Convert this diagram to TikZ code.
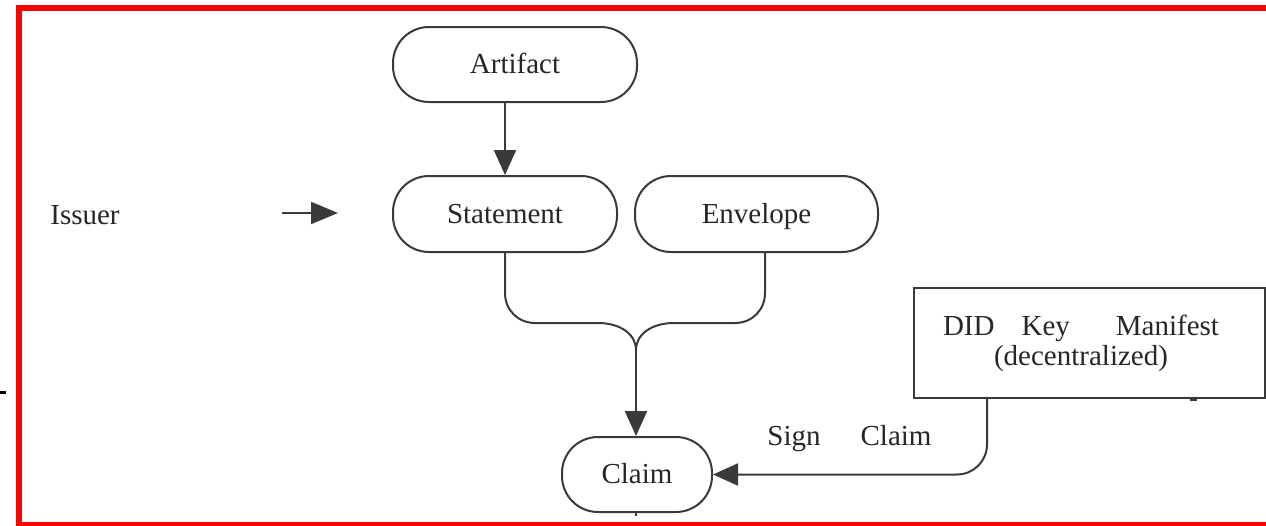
\documentclass[tikz,border=0pt]{standalone}
\usepackage{fontspec}
\setmainfont{Liberation Serif}
\usetikzlibrary{arrows.meta}
\definecolor{inkline}{HTML}{3A3A3A}
\definecolor{inktext}{HTML}{262626}
\begin{document}
\begin{tikzpicture}[x=1pt,y=-1pt,
  pill/.style={draw=inkline, line width=2pt, rounded corners=36pt, inner sep=0pt,
    text=inktext, text height=20pt, text depth=2pt,
    font=\fontsize{29}{30}\selectfont},
  plainbox/.style={draw=inkline, line width=2pt, inner sep=0pt, text=inktext,
    align=center, font=\fontsize{29}{30}\selectfont},
  lbl/.style={text=inktext, inner sep=0pt, font=\fontsize{29}{30}\selectfont},
  flow/.style={draw=inkline, line width=2pt},
  tip/.style={-{Triangle[length=25pt,width=22pt]}}
]
\useasboundingbox (0,0) rectangle (1266,525);
\clip (0,0) rectangle (1266,525);

% outer frame
\draw[red, line width=6pt] (19,8) rectangle (1275,524.7);

% nodes
\node[pill, minimum width=244pt, minimum height=75pt] (artifact) at (515,64.5) {Artifact};
\node[pill, minimum width=224pt, minimum height=76pt] (statement) at (505,214) {Statement};
\node[pill, minimum width=243pt, minimum height=76pt] (envelope) at (756.5,214) {Envelope};
\node[pill, minimum width=150pt, minimum height=75pt] (claim) at (637,474.5) {Claim};
\node[plainbox, minimum width=351pt, minimum height=110pt] (did) at (1089.5,343)
  {DID\hspace{27pt}Key\hspace{46pt}Manifest\hspace*{17pt}\\[0pt](decentralized)\hspace*{17pt}};
\node[lbl] (issuer) at (85,215) {Issuer};
\node[lbl, anchor=base] (signlbl) at (849.5,445) {Sign\hspace{40pt}Claim};

% issuer arrow
\coordinate (ia) at (282,213);
\coordinate (ib) at (338,213);
\draw[flow, -{Triangle[length=27pt,width=22pt]}] (ia) -- (ib);

% artifact to statement
\draw[flow, tip] (artifact.south -| statement.north) -- (statement.north);

% statement and envelope merge into claim
\coordinate (merge) at (636,350);
\draw[flow] (statement.south) -- (505,293)
  .. controls (505,310) and (518,323) .. (535,323) -- (598,323)
  .. controls (620,323) and (636,334) .. (merge);
\draw[flow] ([xshift=8.5pt]envelope.south) -- (765,293)
  .. controls (765,310) and (752,323) .. (735,323) -- (674,323)
  .. controls (652,323) and (636,334) .. (merge);
\draw[flow, tip] (merge) -- (merge |- claim.north);

% signing path from the key manifest
\draw[flow, tip, rounded corners=30pt] ([xshift=74pt]did.south west) |- (claim.east);

% small stray strokes
\draw[black, line width=3pt] (0,392) -- (6,392);
\draw[inkline, line width=1.5pt] (636,512) -- (636,516);
\draw[inkline, line width=1.5pt] (1190,400) -- (1197,400);
\end{tikzpicture}
\end{document}
